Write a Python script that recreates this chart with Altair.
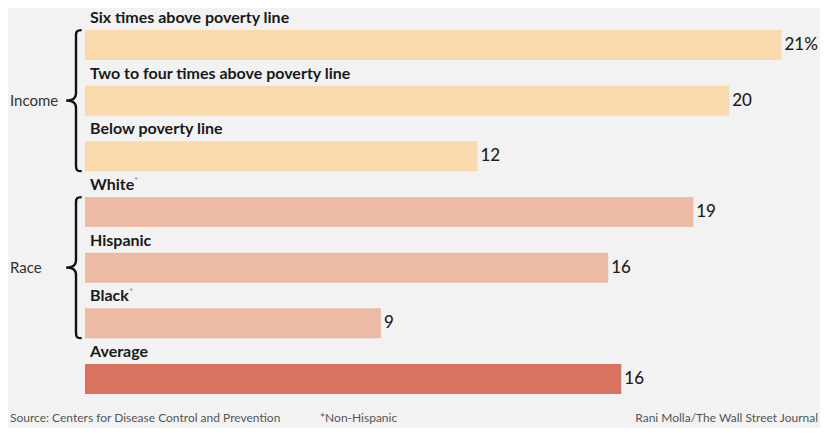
import altair as alt
import pandas as pd

categories = ["Six times above poverty line", "Two to four times above poverty line",
              "Below poverty line", "White", "Hispanic", "Black", "Average"]
values = [21.3, 19.7, 12.0, 18.6, 16.0, 9.05, 16.4]
value_labels = ["21%", "20", "12", "19", "16", "9", "16"]
groups = ["Income", "Income", "Income", "Race", "Race", "Race", "Average"]
group_names = ["Income", "Race", "Average"]
group_colors = ["#fadaad", "#ecbaa5", "#d8735f"]
brace_groups = ["Income", "Race"]
brace_centers = ["Two to four times above poverty line", "Hispanic"]
footnoted = ["White", "Black"]

df = pd.DataFrame({"cat": categories, "val": values,
                   "lab": value_labels, "grp": groups})
braces = pd.DataFrame({"grp": brace_groups, "cat": brace_centers})

W, H = 812, 420
PX = 32.7
xs = alt.Scale(domain=[-77 / PX, (W - 77) / PX], nice=False, zero=False)
ys = alt.Scale(domain=categories, range=[22, 386], paddingInner=0.461, paddingOuter=0)
FONT = "Lato"

base = alt.Chart(df)
Y = alt.Y("cat:N", scale=ys, axis=None, sort=categories)
bars = base.mark_bar().encode(
    x=alt.X("val:Q", scale=xs, axis=None),
    y=Y,
    color=alt.Color("grp:N", scale=alt.Scale(domain=group_names, range=group_colors), legend=None),
)
vals = base.mark_text(align="left", baseline="middle", dx=3, fontSize=17, font=FONT,
                      fontWeight=500, color="#1e1e1e").encode(
    x=alt.X("val:Q", scale=xs), y=Y, text="lab:N")
cats = base.mark_text(align="left", baseline="middle", dx=5, dy=-27, fontSize=16,
                      fontWeight="bold", font=FONT, color="#1a1a1a").encode(
    x=alt.datum(0, scale=xs), y=Y, text="cat:N")

star_w = alt.Chart(df).transform_filter(alt.datum.cat == footnoted[0]).mark_text(
    align="left", baseline="middle", dx=49, dy=-31, fontSize=10, font=FONT,
    color="#8a8a8a").encode(x=alt.datum(0, scale=xs), y=Y, text=alt.value("*"))
star_b = alt.Chart(df).transform_filter(alt.datum.cat == footnoted[1]).mark_text(
    align="left", baseline="middle", dx=44, dy=-31, fontSize=10, font=FONT,
    color="#8a8a8a").encode(x=alt.datum(0, scale=xs), y=Y, text=alt.value("*"))

brace_path = ("M 0.08 -1 C 0.01 -1 0 -0.98 0 -0.92 L 0 -0.1 C 0 -0.03 -0.05 0 -0.14 0 "
              "C -0.05 0 0 0.03 0 0.1 L 0 0.92 C 0 0.98 0.01 1 0.08 1")
brace = alt.Chart(braces).mark_point(shape=brace_path, size=4 * 70.5 ** 2, filled=False,
                                     stroke="#111111", strokeWidth=2.4, opacity=1).encode(
    x=alt.value(68), y=alt.Y("cat:N", scale=ys))
brace_lab = alt.Chart(braces).mark_text(align="left", baseline="middle", fontSize=15,
                                        font=FONT, color="#333333").encode(
    x=alt.value(2), y=alt.Y("cat:N", scale=ys), text="grp:N")

footer_text = ["Source: Centers for Disease Control and Prevention", "*Non-Hispanic",
               "Rani Molla/The Wall Street Journal"]
foot = pd.DataFrame({"t": footer_text})
fstyle = dict(baseline="middle", fontSize=12, font=FONT, color="#555555")
f1 = alt.Chart(foot.iloc[[0]]).mark_text(align="left", **fstyle).encode(
    x=alt.value(2), y=alt.value(410), text="t:N")
f2 = alt.Chart(foot.iloc[[1]]).mark_text(align="left", **fstyle).encode(
    x=alt.value(312), y=alt.value(410), text="t:N")
f3 = alt.Chart(foot.iloc[[2]]).mark_text(align="right", **fstyle).encode(
    x=alt.value(810), y=alt.value(410), text="t:N")

chart = alt.layer(bars, vals, cats, star_w, star_b, brace, brace_lab, f1, f2, f3).properties(
    width=W, height=H, autosize=alt.AutoSizeParams(type="none"), padding=0,
    background="#f2f2f2",
).configure_view(stroke=None)

chart.save("out.html", embed_options={"renderer": "svg", "actions": False})
